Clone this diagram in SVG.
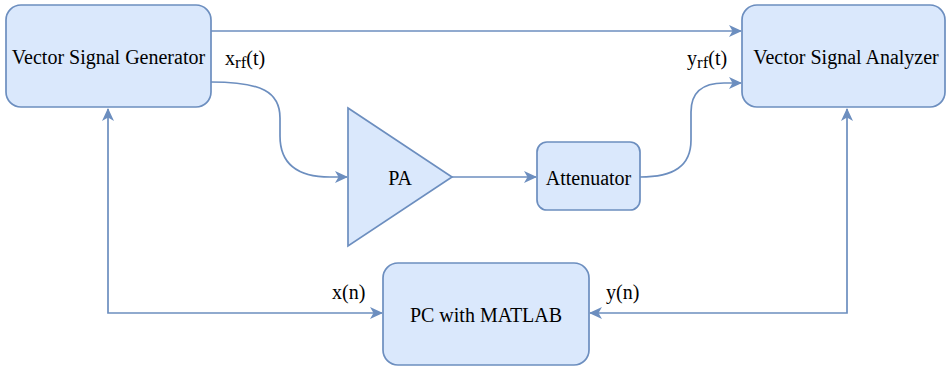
<svg xmlns="http://www.w3.org/2000/svg" width="948" height="368" viewBox="0 0 948 368">
<style>
.box{fill:#dae8fc;stroke:#6c8ebf;stroke-width:1.7}
.lbl{font-size:20px;fill:#000}
.mid{text-anchor:middle}
.edge{fill:none;stroke:#6c8ebf;stroke-width:1.7}
</style>
<defs>
<marker id="arr" markerUnits="userSpaceOnUse" viewBox="0 0 13 12" refX="12" refY="6" markerWidth="13" markerHeight="12" orient="auto-start-reverse">
<path d="M13,6 L0,0 L3.5,6 L0,12 Z" fill="#6c8ebf"/>
</marker>
</defs>
<rect width="948" height="368" fill="#ffffff"/>
<g font-family="Liberation Serif, Tinos, Times New Roman, serif">
<g id="connectors">
<path class="edge" d="M211,31 L741,31" marker-end="url(#arr)"/>
<path class="edge" d="M211,82 C262,82 280,92 280,118 L280,136 C280,163 296,177 330,177 L347,177" marker-end="url(#arr)"/>
<path class="edge" d="M452,177 L536,177" marker-end="url(#arr)"/>
<path class="edge" d="M640,177 C674,177 691,166 691,140 L691,112 C691,92 703,83 724,83 L741,83" marker-end="url(#arr)"/>
<path class="edge" d="M108,109 L108,313 L382,313" marker-start="url(#arr)" marker-end="url(#arr)"/>
<path class="edge" d="M847,109 L847,313 L590,313" marker-start="url(#arr)" marker-end="url(#arr)"/>
<text class="lbl" x="225" y="65">x<tspan font-size="17" dy="3">rf</tspan><tspan dy="-3">(t)</tspan></text>
<text class="lbl" x="687" y="65">y<tspan font-size="17" dy="3">rf</tspan><tspan dy="-3">(t)</tspan></text>
<text class="lbl" x="332" y="299">x(n)</text>
<text class="lbl" x="606" y="299">y(n)</text>
</g>
<g id="vsg">
<rect class="box" x="6" y="5" width="205" height="102" rx="15"/>
<text class="lbl mid" x="108.5" y="64">Vector Signal Generator</text>
</g>
<g id="vsa">
<rect class="box" x="742" y="5" width="203" height="102" rx="15"/>
<text class="lbl mid" x="846" y="64">Vector Signal Analyzer</text>
</g>
<g id="pa">
<polygon class="box" points="348,108 452,177 348,246"/>
<text class="lbl mid" x="400" y="185">PA</text>
</g>
<g id="attenuator">
<rect class="box" x="537" y="142" width="103" height="68" rx="10"/>
<text class="lbl mid" x="588.5" y="185">Attenuator</text>
</g>
<g id="pc">
<rect class="box" x="383" y="263" width="206" height="102" rx="15"/>
<text class="lbl mid" x="486" y="322">PC with MATLAB</text>
</g>
</g>
</svg>
